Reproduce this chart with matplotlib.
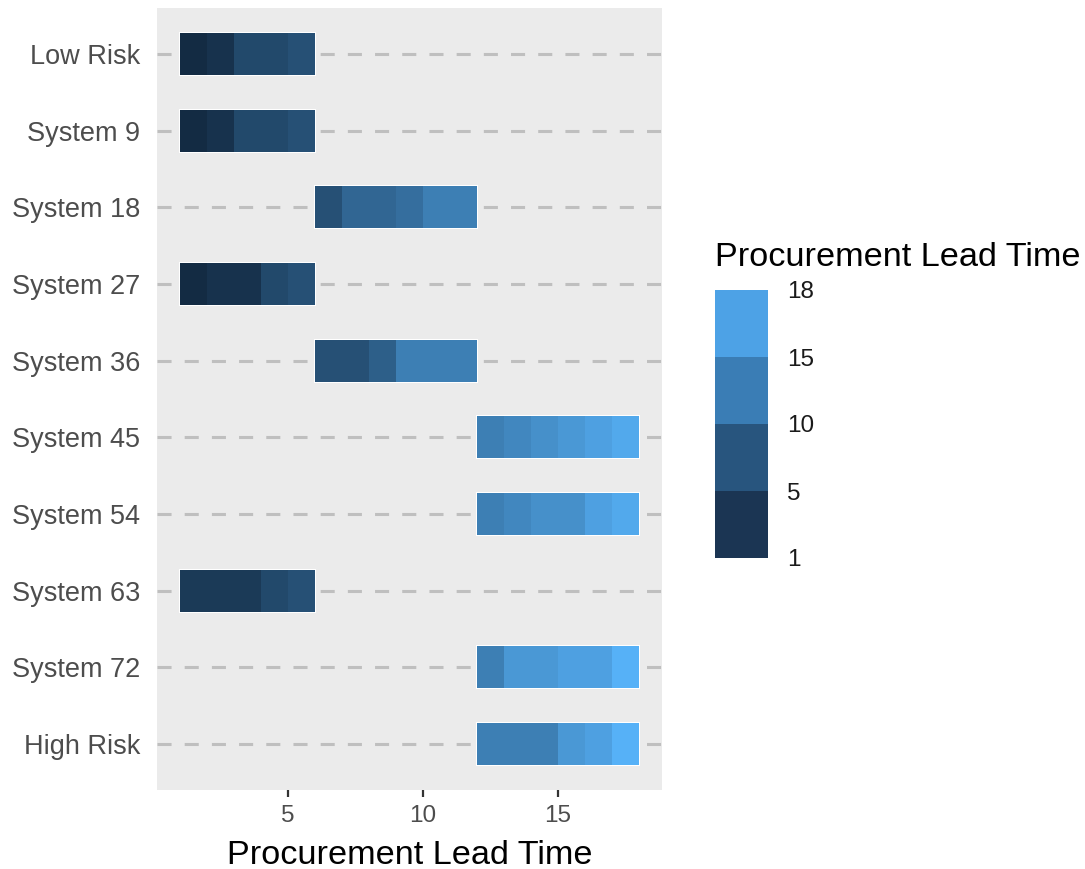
import numpy as np
import matplotlib
matplotlib.use("Agg")
import matplotlib.pyplot as plt
from matplotlib.colors import LinearSegmentedColormap, Normalize, ListedColormap, BoundaryNorm
from matplotlib.colorbar import ColorbarBase

plt.rcParams["font.family"] = ["Liberation Sans", "DejaVu Sans"]

# rows, top to bottom
systems = ["Low Risk", "System 9", "System 18", "System 27", "System 36",
           "System 45", "System 54", "System 63", "System 72", "High Risk"]
# where each row's run of cells begins on the lead time axis
starts = [1, 1, 6, 1, 6, 12, 12, 1, 12, 12]
# lead time value of each 1-unit cell
low_risk = [1, 2, 5, 5, 6]
system_9 = [1, 2, 5, 5, 6]
system_18 = [6, 9, 9, 10, 12, 12]
system_27 = [1, 2, 2, 5, 6]
system_36 = [6, 6, 8, 12, 12, 12]
system_45 = [12, 13, 14, 15, 16, 17]
system_54 = [12, 13, 14, 14, 16, 17]
system_63 = [3, 3, 3, 5, 6]
system_72 = [12, 15, 15, 16, 16, 18]
high_risk = [12, 12, 12, 15, 16, 18]
cells = [low_risk, system_9, system_18, system_27, system_36,
         system_45, system_54, system_63, system_72, high_risk]

legend_breaks = [1, 5, 10, 15, 18]
legend_colors = ["#1b3553", "#28557e", "#3a7db5", "#4da2e6"]

cmap = LinearSegmentedColormap.from_list("gg", ["#132B43", "#336A98", "#56B1F7"])
norm = Normalize(1, 18)

fig = plt.figure(figsize=(10.85, 8.69), dpi=100)
ax = fig.add_axes([0.1447, 0.0909, 0.4654, 0.8999])
ax.set_facecolor("#EBEBEB")

xmin, xmax = 0.15, 18.85
y = np.arange(len(systems))
for yi in y:
    ax.plot([xmin, xmax], [yi, yi], color="#BFBFBF", lw=2.2,
            linestyle=(0, (4.6, 4.3)), zorder=1)

h = 0.55
for yi, s, vals in zip(y, starts, cells):
    ax.barh(yi, len(vals), left=s, height=h, color="white",
            edgecolor="white", linewidth=1.5, zorder=2)
    lefts = s + np.arange(len(vals))
    ax.barh([yi] * len(vals), 1, left=lefts, height=h,
            color=cmap(norm(vals)), linewidth=0, zorder=3)

ax.set_xlim(xmin, xmax)
ax.set_ylim(9.6, -0.6)
ax.set_yticks(y)
ax.set_yticklabels(systems)
ax.set_xticks([5, 10, 15])
for s in ax.spines.values():
    s.set_visible(False)
ax.tick_params(axis="x", colors="#333333", length=5, width=1.6,
               labelsize=17.5, labelcolor="#4D4D4D", pad=6)
ax.tick_params(axis="y", length=0, labelsize=19.5, labelcolor="#4D4D4D", pad=12)
ax.set_xlabel("Procurement Lead Time", fontsize=24.7, color="black", labelpad=9)

# binned legend
cax = fig.add_axes([715 / 1085, 1 - 558 / 869, 53 / 1085, 268 / 869])
cb = ColorbarBase(cax, cmap=ListedColormap(legend_colors),
                  norm=BoundaryNorm(legend_breaks, 4), spacing="uniform",
                  ticks=legend_breaks)
cax.tick_params(length=0, labelsize=17.5, pad=14, labelcolor="#1a1a1a")
cb.outline.set_visible(False)
fig.text(715 / 1085, 1 - 258 / 869, "Procurement Lead Time", fontsize=24.7,
         va="center", ha="left")

fig.savefig("out.png", dpi=100)
